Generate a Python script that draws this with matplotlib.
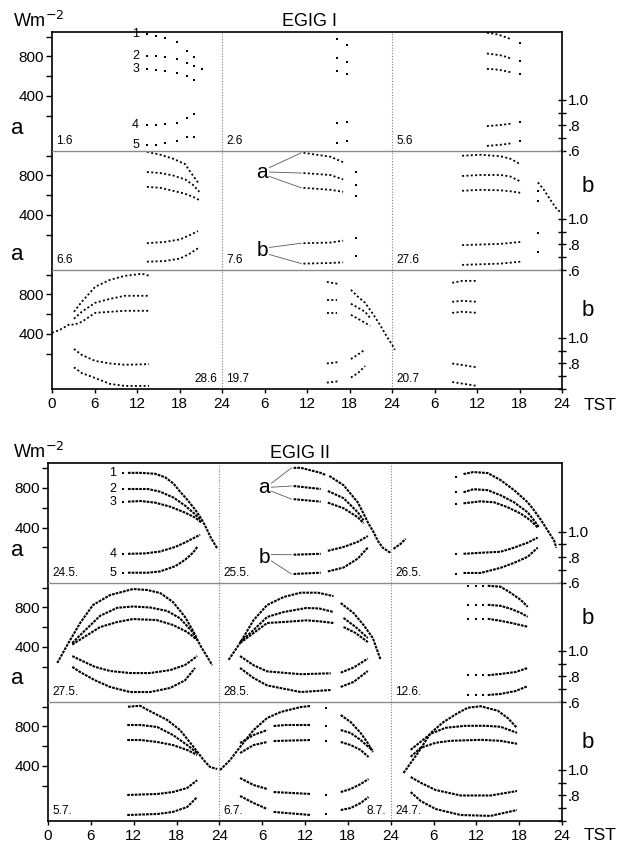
import matplotlib.pyplot as plt

plt.rcParams["font.family"] = ["Liberation Sans", "DejaVu Sans"]

_ = None  # break between measured stretches

# Each day block: curves 1-3 in Wm-2, curves 4-5 albedo; (local hour, value)

# ---------------- EGIG I ----------------
e1_1_6 = [
    [(13.4, 1030), (14.7, 1010), (15.9, 990), (17.6, 945), (19.0, 860), (20.0, 790)],
    [(13.4, 810), (14.7, 805), (15.9, 795), (17.6, 770), (19.0, 730), (20.0, 700), (21.2, 670)],
    [(13.4, 675), (14.7, 660), (15.9, 655), (17.6, 635), (19.0, 600), (20.0, 565)],
    [(13.4, 0.80), (14.7, 0.80), (15.9, 0.81), (17.6, 0.82), (19.0, 0.86), (20.0, 0.89)],
    [(13.4, 0.645), (14.7, 0.65), (15.9, 0.66), (17.6, 0.675), (19.0, 0.71), (20.0, 0.71)],
]
e1_2_6 = [
    [(16.2, 980), (17.6, 920)],
    [(16.2, 785), (17.6, 745)],
    [(16.2, 655), (17.6, 625)],
    [(16.2, 0.82), (17.6, 0.83)],
    [(16.2, 0.66), (17.6, 0.68)],
]
e1_5_6 = [
    [(13.4, 1040), (14.5, 1030), (15.5, 1010), (16.8, 975), _, (18.1, 935)],
    [(13.4, 830), (14.5, 820), (15.5, 810), (16.8, 780), _, (18.1, 750)],
    [(13.4, 675), (14.5, 670), (15.5, 660), (16.8, 640), _, (18.1, 625)],
    [(13.4, 0.795), (14.5, 0.80), (15.5, 0.805), (16.8, 0.815), _, (18.1, 0.83)],
    [(13.4, 0.64), (14.5, 0.645), (15.5, 0.65), (16.8, 0.66), _, (18.1, 0.68)],
]
e1_6_6 = [
    [(13.4, 1040), (15.3, 1010), (17.1, 970), (18.8, 915), (19.5, 840), (20.6, 730)],
    [(13.4, 835), (15.3, 825), (17.1, 800), (18.8, 760), (19.9, 705), (20.8, 635)],
    [(13.4, 685), (15.3, 675), (17.1, 645), (18.8, 615), (20.2, 575), (20.8, 550)],
    [(13.4, 0.81), (15.9, 0.82), (18.1, 0.84), (19.5, 0.875), (20.6, 0.905)],
    [(13.4, 0.665), (15.9, 0.67), (18.1, 0.69), (19.5, 0.73), (20.6, 0.77)],
]
e1_7_6 = [
    [(11.5, 1030), (13.4, 1010), (15.3, 990), (17.1, 935), _, (18.9, 840)],
    [(11.5, 825), (13.4, 815), (15.3, 805), (17.1, 760), _, (18.9, 705)],
    [(11.5, 675), (13.4, 665), (15.3, 655), (17.1, 635), _, (18.9, 595)],
    [(11.5, 0.81), (15.3, 0.815), (17.1, 0.83), _, (18.9, 0.85)],
    [(11.5, 0.65), (15.3, 0.655), (17.1, 0.66), _, (18.9, 0.71)],
]
e1_27_6 = [
    [(9.9, 1000), (12.5, 1010), (15.3, 995), (16.7, 970), (18.1, 915), _,
     (20.6, 730), (21.4, 660), (22.3, 560), (23.3, 455), (24.0, 420)],
    [(9.9, 795), (12.5, 805), (15.3, 805), (16.7, 790), (18.1, 740), _, (20.6, 640)],
    [(9.9, 645), (12.5, 655), (15.3, 650), (16.7, 640), (18.1, 625), _, (20.6, 545)],
    [(9.9, 0.795), (12.5, 0.80), (15.3, 0.805), (18.1, 0.82), _, (20.6, 0.89)],
    [(9.9, 0.64), (12.5, 0.645), (15.3, 0.65), (18.1, 0.665), _, (20.6, 0.74)],
]
e1_28_6 = [
    [(3.1, 625), (4.2, 726), (6.1, 878), (8.2, 949), (10.3, 989), (12.7, 1010), (13.7, 990)],
    [(3.1, 554), (4.2, 625), (6.1, 716), (8.2, 756), (10.3, 787), (13.7, 787)],
    [(0.0, 412), (1.1, 442), (1.8, 470), (2.5, 500), (3.1, 493), (4.2, 523), (6.1, 614),
     (8.2, 625), (10.3, 635), (13.7, 635)],
    [(3.1, 0.914), (4.2, 0.867), (6.1, 0.82), (8.2, 0.80), (10.3, 0.79), (13.7, 0.795)],
    [(3.1, 0.77), (4.2, 0.725), (6.1, 0.686), (8.2, 0.64), (10.3, 0.624), (13.7, 0.624)],
]
e1_19_7 = [
    [(14.8, 928), (16.3, 908), _, (18.2, 847), (19.2, 777), (20.2, 716), (21.2, 614),
     (22.3, 493), (23.3, 371), (24.2, 270), (24.4, 240)],
    [(14.8, 746), (16.3, 746), _, (18.2, 706), (19.2, 666), (20.2, 625), (20.9, 564)],
    [(14.8, 614), (16.3, 614), _, (18.2, 594), (19.2, 554), (20.2, 513), (20.9, 483)],
    [(14.8, 0.80), (16.3, 0.81), _, (18.2, 0.835), (19.2, 0.87), (20.2, 0.91)],
    [(14.8, 0.65), (16.3, 0.66), _, (18.2, 0.69), (19.2, 0.725), (20.2, 0.78)],
]
e1_20_7 = [
    [(8.5, 918), (9.9, 938), (12.0, 938)],
    [(8.5, 726), (9.9, 736), (12.0, 726)],
    [(8.5, 614), (9.9, 625), (12.0, 614)],
    [(8.5, 0.80), (12.0, 0.77)],
    [(8.5, 0.655), (12.0, 0.624)],
]

# ---------------- EGIG II ----------------
e2_24_5 = [
    [(10.5, 949), _, (11.2, 949), (13.0, 949), (15.0, 940), (16.4, 905), (17.6, 840),
     (18.5, 760), (19.5, 680), (20.5, 590), (21.3, 510), (22.0, 420), (22.8, 300), (23.7, 190)],
    [(10.5, 787), _, (11.2, 787), (14.0, 787), (15.7, 760), (17.6, 700), (19.2, 620),
     (20.5, 540), (21.5, 470)],
    [(10.5, 655), _, (11.2, 660), (13.0, 666), (15.0, 650), (17.1, 610), (19.2, 550),
     (20.6, 500), (21.5, 450)],
    [(10.5, 0.827), _, (11.2, 0.827), (13.6, 0.83), (15.7, 0.845), (17.8, 0.88),
     (19.2, 0.915), (20.6, 0.955), (21.3, 0.975)],
    [(10.5, 0.68), _, (11.2, 0.68), (14.0, 0.68), (15.7, 0.69), (17.8, 0.73),
     (19.2, 0.78), (20.3, 0.835), (20.9, 0.88)],
]
e2_25_5 = [
    [(10.4, 999), (11.4, 1000), (14.2, 949), (14.9, 928), _, (15.4, 918), (17.4, 825),
     (19.4, 652), (20.2, 540), (20.9, 439), (21.5, 368), (22.2, 267), (22.9, 196), (24.0, 145)],
    [(10.4, 817), (14.2, 787), _, (15.2, 767), (17.4, 695), (19.4, 553), (20.2, 473)],
    [(10.4, 685), (14.2, 660), _, (15.2, 650), (17.4, 594), (19.4, 503), (20.2, 443)],
    [(10.4, 0.82), (14.2, 0.827), _, (15.2, 0.85), (17.4, 0.88), (19.4, 0.92), (20.8, 0.965)],
    [(10.4, 0.67), (14.2, 0.68), _, (15.2, 0.69), (17.4, 0.72), (19.4, 0.79), (20.8, 0.875)],
]
e2_26_5 = [
    [(0.4, 186), (1.4, 236), (2.1, 287), _, (9.1, 908), _, (10.2, 937), (11.6, 957),
     (13.6, 947), (15.4, 876), (17.3, 775), (19.2, 653), (20.1, 572), (21.1, 471),
     (22.0, 369), (22.9, 268), (23.2, 197)],
    [(9.1, 756), _, (10.2, 754), (11.6, 785), (13.6, 775), (15.4, 724), (17.3, 653),
     (19.2, 552), (20.1, 471), (20.8, 400)],
    [(9.1, 635), _, (10.2, 643), (12.6, 663), (14.5, 653), (16.4, 603), (18.2, 541),
     (19.6, 471), (20.6, 400)],
    [(9.1, 0.827), _, (10.2, 0.827), (12.6, 0.835), (15.4, 0.843), (17.3, 0.875),
     (19.2, 0.914), (20.6, 0.953)],
    [(9.1, 0.67), _, (10.2, 0.678), (12.6, 0.678), (15.4, 0.718), (17.3, 0.757),
     (19.2, 0.804), (20.6, 0.875)],
]
e2_27_5 = [
    [(1.3, 238), (2.7, 420), (4.5, 643), (6.3, 825), (8.7, 926), (11.9, 987), (13.9, 977),
     (15.7, 947), (17.5, 856), (19.2, 704), (20.4, 552), (21.3, 420), (23.0, 217)],
    [(3.4, 440), (5.0, 555), (7.3, 716), (9.7, 797), (11.9, 810), (14.3, 800), (16.7, 765),
     (18.5, 690), (20.2, 555), (20.9, 470)],
    [(3.4, 425), (7.3, 602), (9.7, 653), (11.9, 683), (15.2, 673), (17.5, 623),
     (19.5, 552), (20.9, 471)],
    [(3.4, 0.96), (4.5, 0.93), (6.6, 0.875), (8.7, 0.843), (11.5, 0.827), (14.3, 0.827),
     (17.1, 0.85), (19.2, 0.89), (20.9, 0.96)],
    [(3.4, 0.875), (4.5, 0.835), (6.6, 0.77), (8.7, 0.718), (11.5, 0.678), (14.3, 0.678),
     (17.1, 0.71), (19.2, 0.77), (20.6, 0.867)],
]
e2_28_5 = [
    [(1.3, 270), (2.9, 440), (4.8, 673), (6.7, 825), (9.0, 906), (11.4, 950), (13.8, 950),
     (16.0, 915), _, (17.0, 845), (18.8, 744), (20.2, 623), (21.5, 491), (22.6, 268)],
    [(2.9, 450), (4.8, 572), (6.7, 704), (9.0, 754), (12.2, 795), (14.0, 790), (16.0, 754), _,
     (17.4, 694), (19.1, 602), (20.8, 491)],
    [(2.9, 440), (4.8, 541), (6.7, 643), (9.0, 653), (12.2, 670), (14.0, 660), (16.0, 643), _,
     (17.4, 602), (19.1, 541), (20.8, 450)],
    [(2.9, 0.96), (4.8, 0.888), (6.7, 0.84), (11.4, 0.818), (15.6, 0.825), _,
     (17.0, 0.83), (18.8, 0.87), (20.8, 0.94)],
    [(2.9, 0.867), (4.8, 0.788), (6.7, 0.73), (11.4, 0.678), (15.6, 0.694), _,
     (17.0, 0.718), (18.8, 0.757), (20.8, 0.843)],
]
e2_12_6 = [
    [(10.9, 1020), _, (11.9, 1020), _, (12.9, 1020), _, (13.6, 1020), (15.4, 1010),
     (16.8, 949), (18.2, 878), (19.2, 807)],
    [(10.9, 827), _, (11.9, 827), _, (12.9, 827), _, (13.6, 827), (15.4, 817),
     (16.8, 787), (18.2, 746), (19.2, 706)],
    [(10.9, 686), _, (11.9, 686), _, (12.9, 686), _, (13.6, 686), (15.4, 665),
     (16.8, 645), (19.2, 605)],
    [(10.9, 0.81), _, (11.9, 0.81), _, (12.9, 0.81), _, (13.6, 0.81), (15.4, 0.82),
     (17.5, 0.835), (19.2, 0.867)],
    [(10.9, 0.655), _, (11.9, 0.655), _, (12.9, 0.655), _, (13.6, 0.655), (15.4, 0.663),
     (17.5, 0.686), (19.2, 0.725)],
]
e2_5_7 = [
    [(11.2, 1000), (12.9, 1010), (13.9, 970), (16.7, 866), (18.5, 764), (20.4, 592),
     (21.8, 460), (22.7, 390), (23.7, 369)],
    [(11.1, 815), (13.0, 815), (15.3, 795), (17.5, 714), (19.5, 612), (20.9, 531)],
    [(11.1, 663), (13.0, 663), (15.3, 643), (17.5, 612), (19.5, 562), (20.9, 511)],
    [(11.1, 0.804), (15.3, 0.812), (17.5, 0.827), (19.5, 0.859), (20.9, 0.92)],
    [(11.1, 0.647), (15.3, 0.655), (17.5, 0.671), (19.5, 0.71), (20.9, 0.788)],
]
e2_6_7 = [
    [(0.1, 359), (1.5, 460), (2.9, 592), (4.8, 764), (6.7, 886), (8.6, 947), (11.4, 997),
     (12.8, 1008), _, (14.9, 985)],
    [(2.9, 633), (4.8, 714), (6.7, 764), _, (7.6, 805), (9.3, 815), (12.8, 815), _, (14.9, 807)],
    [(2.9, 531), (4.8, 612), (6.7, 643), _, (7.6, 653), (12.8, 663), _, (14.9, 655)],
    [(2.9, 0.937), (4.8, 0.882), (6.7, 0.851), _, (7.6, 0.827), (12.8, 0.812), _, (14.9, 0.80)],
    [(2.9, 0.796), (4.8, 0.741), (6.7, 0.694), _, (7.6, 0.671), (12.8, 0.647), _, (14.9, 0.655)],
]
e2_8_7 = [
    [(17.0, 916), (18.4, 845), (19.8, 734), (20.8, 632), (21.5, 541)],
    [(17.0, 764), (18.4, 734), (19.8, 663), (20.9, 592), (21.5, 562)],
    [(17.0, 643), (18.4, 612), (19.8, 562), (20.9, 491)],
    [(17.0, 0.827), (18.4, 0.851), (19.8, 0.89), (20.9, 0.929)],
    [(17.0, 0.686), (18.4, 0.702), (19.8, 0.741), (20.9, 0.788)],
]
e2_24_7 = [
    [(1.8, 329), (3.8, 531), (5.6, 734), (7.4, 845), (9.4, 936), (10.8, 990), (12.6, 1005),
     (15.0, 960), (16.4, 886), (17.7, 785)],
    [(2.8, 564), (4.2, 645), (5.6, 726), (7.7, 787), (10.5, 807), (13.3, 807), (15.4, 797),
     (17.7, 736)],
    [(2.8, 493), (4.2, 584), (6.3, 635), (8.4, 655), (12.6, 665), (15.4, 655), (17.7, 625)],
    [(2.8, 0.945), (4.2, 0.90), (6.3, 0.843), (9.8, 0.80), (14.0, 0.80), (17.7, 0.835)],
    [(2.8, 0.827), (4.2, 0.757), (6.3, 0.694), (9.8, 0.647), (14.0, 0.64), (17.7, 0.686)],
]

# panel, row, day slot, data, date label, label side, marker style
BLOCKS = [
    (1, 0, 0, e1_1_6, "1.6", "left", "sparse"),
    (1, 0, 1, e1_2_6, "2.6", "left", "sparse"),
    (1, 0, 2, e1_5_6, "5.6", "left", "dots"),
    (1, 1, 0, e1_6_6, "6.6", "left", "dots"),
    (1, 1, 1, e1_7_6, "7.6", "left", "dots"),
    (1, 1, 2, e1_27_6, "27.6", "left", "dots"),
    (1, 2, 0, e1_28_6, "28.6", "right", "dots"),
    (1, 2, 1, e1_19_7, "19.7", "left", "dots"),
    (1, 2, 2, e1_20_7, "20.7", "left", "dots"),
    (2, 0, 0, e2_24_5, "24.5.", "left", "dense"),
    (2, 0, 1, e2_25_5, "25.5.", "left", "dense"),
    (2, 0, 2, e2_26_5, "26.5.", "left", "dense"),
    (2, 1, 0, e2_27_5, "27.5.", "left", "dense"),
    (2, 1, 1, e2_28_5, "28.5.", "left", "dense"),
    (2, 1, 2, e2_12_6, "12.6.", "left", "dense"),
    (2, 2, 0, e2_5_7, "5.7.", "left", "dense"),
    (2, 2, 1, e2_6_7, "6.7.", "left", "dense"),
    (2, 2, 1, e2_8_7, "8.7.", "right", "dense"),
    (2, 2, 2, e2_24_7, "24.7.", "left", "dense"),
]

W_LIM = (-157, 1048)
B_LIM = (0.6, 1.533)
x_ticks = list(range(0, 73, 6))
x_labels = ["0", "6", "12", "18", "24", "6", "12", "18", "24", "6", "12", "18", "24"]

FW, FH = 621, 859
PANELS = {1: dict(x0=52, x1=562, rows=[32, 151, 270, 389]),
          2: dict(x0=48, x1=562, rows=[463, 583, 702, 821])}

fig = plt.figure(figsize=(FW / 100, FH / 100), dpi=100)


def b2w(b):
    return W_LIM[0] + (b - B_LIM[0]) / (B_LIM[1] - B_LIM[0]) * (W_LIM[1] - W_LIM[0])


def segments(curve):
    seg = []
    for p in curve:
        if p is None:
            if seg:
                yield seg
            seg = []
        else:
            seg.append(p)
    if seg:
        yield seg


axes = {}
for pn, cfg in PANELS.items():
    rows = cfg["rows"]
    for r in range(3):
        top, bot = rows[r], rows[r + 1]
        ax = fig.add_axes([cfg["x0"] / FW, 1 - bot / FH, (cfg["x1"] - cfg["x0"]) / FW, (bot - top) / FH])
        ax.set_xlim(0, 72)
        ax.set_ylim(*W_LIM)
        axb = ax.twinx()
        axb.set_ylim(*B_LIM)
        for a in (ax, axb):
            for s in a.spines.values():
                s.set_visible(False)
        ax.spines["left"].set_visible(True)
        ax.spines["left"].set_linewidth(1.2)
        axb.spines["right"].set_visible(True)
        axb.spines["right"].set_linewidth(1.2)
        ax.spines["top"].set_visible(True)
        if r == 0:
            ax.spines["top"].set_linewidth(1.2)
        else:
            ax.spines["top"].set_color("0.55")
            ax.spines["top"].set_linewidth(1.0)
        ax.set_yticks([200, 400, 600, 800, 1000])
        ax.set_yticklabels(["", "400", "", "800", ""])
        ax.tick_params(axis="y", direction="out", length=4, width=1, labelsize=11, pad=2)
        axb.set_yticks([0.6, 0.7, 0.8, 0.9, 1.0])
        if r < 2:
            axb.set_yticklabels([".6", "", ".8", "", "1.0"])
        else:
            axb.set_yticklabels(["", "", ".8", "", "1.0"])
        axb.tick_params(axis="y", direction="inout", length=6, width=1, labelsize=11, pad=1)
        if r == 2:
            ax.spines["bottom"].set_visible(True)
            ax.spines["bottom"].set_linewidth(1.2)
            ax.set_xticks(x_ticks)
            ax.set_xticklabels(x_labels)
            ax.tick_params(axis="x", direction="out", length=3, width=1, labelsize=11, pad=3)
        else:
            ax.set_xticks([])
        for d in (24, 48):
            ax.axvline(d, color="0.5", lw=0.8, ls=(0, (1, 1.5)))
        axes[(pn, r)] = (ax, axb)

for pn, r, day, data, label, side, style in BLOCKS:
    ax, axb = axes[(pn, r)]
    off = day * 24
    for k, curve in enumerate(data):
        axis = ax if k < 3 else axb
        for seg in segments(curve):
            hh = [off + p[0] for p in seg]
            vv = [p[1] for p in seg]
            if style == "sparse" or len(seg) == 1:
                axis.plot(hh, vv, ls="none", marker="s", ms=2.0, mew=0, color="k")
            elif style == "dense":
                axis.plot(hh, vv, color="k", lw=1.5, ls=(0, (1.3, 0.5)))
            else:
                axis.plot(hh, vv, color="k", lw=1.3, ls=(0, (1.1, 1.3)))
    if side == "left":
        ax.text(off + 0.6, 0.035, label, transform=ax.get_xaxis_transform(),
                ha="left", va="bottom", fontsize=8.5)
    else:
        ax.text(off + 23.4, 0.035, label, transform=ax.get_xaxis_transform(),
                ha="right", va="bottom", fontsize=8.5)


def first_point(curve):
    return next(p for p in curve if p is not None)


def number_labels(ax, data, day, dx):
    for k, curve in enumerate(data):
        h, v = first_point(curve)
        w = v if k < 3 else b2w(v)
        ax.text(day * 24 + h - dx, w, str(k + 1), ha="center", va="center", fontsize=9)


def leaders(ax, data, day, h_txt, w_a, b_b, spread):
    h_line = h_txt + 1.0
    ax.text(h_txt, w_a, "a", ha="center", va="center", fontsize=15)
    w_b = b2w(b_b)
    ax.text(h_txt, w_b, "b", ha="center", va="center", fontsize=15)
    starts = [w_a + spread, w_a, w_a - spread, w_b + spread * 0.8, w_b - spread * 0.8]
    for k, curve in enumerate(data):
        h, v = first_point(curve)
        w = v if k < 3 else b2w(v)
        ax.plot([h_line, day * 24 + h - 0.3], [starts[k], w], color="0.35", lw=0.6)


number_labels(axes[(1, 0)][0], e1_1_6, 0, 1.6)
number_labels(axes[(2, 0)][0], e2_24_5, 0, 1.4)
leaders(axes[(1, 1)][0], e1_7_6, 1, 29.7, 835, 0.749, 45)
leaders(axes[(2, 0)][0], e2_25_5, 1, 30.3, 805, 0.796, 40)


def ftxt(x, y, s, **kw):
    fig.text(x / FW, 1 - y / FH, s, **kw)


for y0 in (21, 452):
    ftxt(13, y0, "Wm$^{-2}$", ha="left", va="center", fontsize=13)
ftxt(309, 21, "EGIG I", ha="center", va="center", fontsize=13)
ftxt(300, 453, "EGIG II", ha="center", va="center", fontsize=13)
for y0 in (128, 255, 550, 678):
    ftxt(17, y0, "a", ha="center", va="center", fontsize=16)
for y0 in (186, 310, 618, 742):
    ftxt(588, y0, "b", ha="center", va="center", fontsize=16)
ftxt(584, 405, "TST", ha="left", va="center", fontsize=12.5)
ftxt(584, 836, "TST", ha="left", va="center", fontsize=12.5)

fig.savefig("out.png", dpi=100)
